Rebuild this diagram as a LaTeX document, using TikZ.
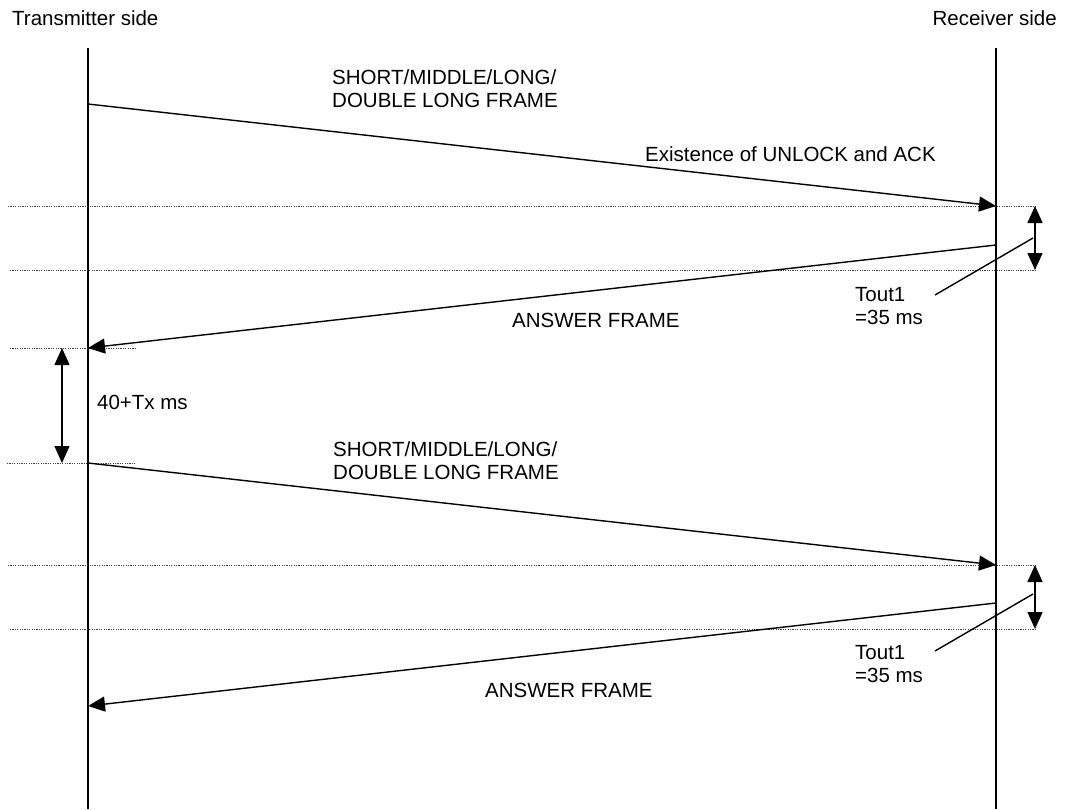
\documentclass[tikz,border=0pt]{standalone}
\usepackage{fontspec}
\setmainfont{Liberation Sans}
\usetikzlibrary{arrows.meta}
\tikzset{
  lifeline/.style={line width=1.7pt},
  msg/.style={line width=1.4pt, -{Triangle[length=17pt,width=15pt]}},
  span/.style={line width=1.4pt, {Triangle[length=17pt,width=15pt]}-{Triangle[length=17pt,width=15pt]}},
  guide/.style={line width=0.9pt, black!75, dash pattern=on 1.2pt off 1.2pt},
  leader/.style={line width=1.4pt},
  lbl/.style={anchor=base west, inner sep=0pt, font=\fontsize{20.5}{23}\selectfont},
  lblr/.style={anchor=base east, inner sep=0pt, font=\fontsize{20.5}{23}\selectfont},
}
\begin{document}
\begin{tikzpicture}[x=1pt,y=-1pt]
\useasboundingbox (0,0) rectangle (1066,809);

% headers
\node[lbl]  (tx)  at (12,25)   {Transmitter side};
\node[lblr] (rx)  at (1057,25) {Receiver side};

% lifelines
\coordinate (ltop) at (88,48);   \coordinate (lbot) at (88,809);
\coordinate (rtop) at (996,48);  \coordinate (rbot) at (996,809);
\draw[lifeline] (ltop) -- (lbot);
\draw[lifeline] (rtop) -- (rbot);

% message end points
\coordinate (m1s) at (88,104);  \coordinate (m1e) at (996,206);
\coordinate (a1s) at (996,245); \coordinate (a1e) at (88,348);
\coordinate (m2s) at (88,463);  \coordinate (m2e) at (996,565);
\coordinate (a2s) at (996,603); \coordinate (a2e) at (88,706);

% guide lines
\coordinate (g1a) at (8,206);   \coordinate (g1b) at (1037,206);
\coordinate (g2a) at (10,270);  \coordinate (g2b) at (1037,270);
\coordinate (g3a) at (10,348);  \coordinate (g3b) at (137,348);
\coordinate (g4a) at (7,463);   \coordinate (g4b) at (135,463);
\coordinate (g5a) at (8,565);   \coordinate (g5b) at (1037,565);
\coordinate (g6a) at (10,629);  \coordinate (g6b) at (1037,629);
\foreach \a/\b in {g1a/g1b,g2a/g2b,g3a/g3b,g4a/g4b,g5a/g5b,g6a/g6b}
  \draw[guide] (\a) -- (\b);

% messages
\draw[msg] (m1s) -- (m1e);
\draw[msg] (a1s) -- (a1e);
\draw[msg] (m2s) -- (m2e);
\draw[msg] (a2s) -- (a2e);

% timing spans
\coordinate (t1a) at (1035,206); \coordinate (t1b) at (1035,270);
\coordinate (t2a) at (1035,565); \coordinate (t2b) at (1035,629);
\coordinate (wa) at (62,348);    \coordinate (wb) at (62,463);
\draw[span] (t1a) -- (t1b);
\draw[span] (t2a) -- (t2b);
\draw[span] (wa) -- (wb);

% labels
\node[lbl] (f1a) at (332,84)  {SHORT/MIDDLE/LONG/};
\node[lbl] (f1b) at (332,107) {DOUBLE LONG FRAME};
\node[lbl] (ex)  at (645,161) {Existence of UNLOCK and ACK};
\node[lbl] (an1) at (512,327) {ANSWER FRAME};
\node[lbl] (to1a) at (855,301) {Tout1};
\node[lbl] (to1b) at (855,324) {=35 ms};
\node[lbl] (wt)  at (97,409)  {40+Tx ms};
\node[lbl] (f2a) at (333,456) {SHORT/MIDDLE/LONG/};
\node[lbl] (f2b) at (333,479) {DOUBLE LONG FRAME};
\node[lbl] (to2a) at (855,659) {Tout1};
\node[lbl] (to2b) at (855,682) {=35 ms};
\node[lbl] (an2) at (485,697) {ANSWER FRAME};

% leaders from the Tout1 labels to their spans
\coordinate (l1a) at (1033,238); \coordinate (l1b) at (935,295);
\coordinate (l2a) at (1033,594); \coordinate (l2b) at (935,651);
\draw[leader] (l1a) -- (l1b);
\draw[leader] (l2a) -- (l2b);
\end{tikzpicture}
\end{document}
